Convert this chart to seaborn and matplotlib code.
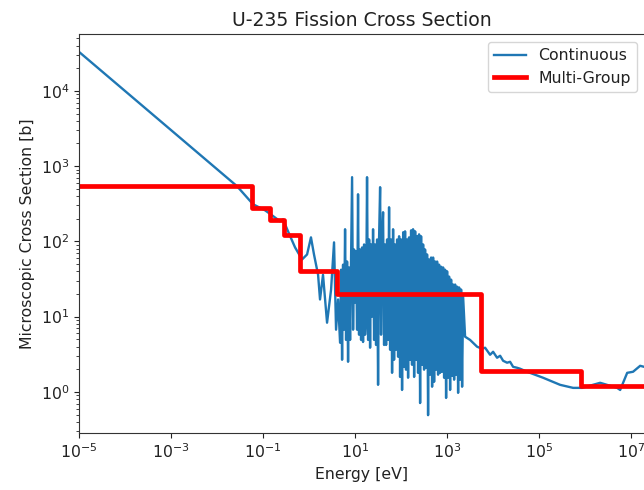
import numpy as np
import seaborn as sns
import matplotlib
matplotlib.use("Agg")
import matplotlib.pyplot as plt

# thermal region (1/v) and the first resolved resonances, energy in eV, xs in barns
low_energy = [1e-5, 0.0272, 0.0607, 0.110, 0.157, 0.234, 0.272, 0.349, 0.497, 0.705,
              0.905, 1.10, 1.28, 1.57, 1.73, 2.01, 2.46, 3.01, 3.49, 3.86, 4.27]
low_xs = [3.3e4, 541, 311, 259, 222, 185, 196, 136, 83, 57.5,
          67, 113, 67, 36, 16.9, 36, 8.3, 22.9, 97, 6.7, 16.9]

# resolved resonance region
res_energy = [4.72, 4.96, 5.22, 5.48, 5.77, 6.06, 6.37, 6.70, 7.04, 7.41,
              7.79, 8.19, 8.61, 9.05, 9.51, 10.0, 10.5, 11.05, 11.6, 12.2,
              12.85, 13.5, 14.2, 14.9, 15.7, 16.5, 17.3, 18.2, 19.2, 20.2,
              21.2, 22.3, 23.4, 24.6, 25.9, 27.2, 28.6, 30.1, 31.6, 33.2,
              35.0, 36.7, 38.6, 40.6, 42.7, 44.9, 47.2, 49.6, 52.2, 54.8,
              57.7, 60.6, 63.7, 67.0, 70.4, 74.1, 77.9, 81.9, 86.1, 90.5,
              95.1, 100, 105, 111, 116, 122, 128, 135, 142, 149,
              157, 165, 173, 182, 192, 202, 212, 223, 234, 246,
              259, 272, 286, 301, 316, 332, 350, 367, 386, 406,
              427, 449, 472, 496, 522, 548, 577, 606, 637, 670,
              704, 741, 779, 819, 861, 905, 951, 1000, 1051, 1105,
              1162, 1222, 1285, 1350, 1420, 1493, 1570, 1650, 1735, 1824,
              1917, 2016, 2119, 2228]
res_xs = [4.5, 42, 2.67, 49, 6.7, 145, 4.9, 54, 2.51, 45,
          4.9, 67, 713, 6.7, 78, 15.4, 74, 6.7, 423, 5.75,
          78, 4.9, 83, 4.6, 91, 5.75, 9.1, 713, 4.9, 106,
          3.86, 91, 10, 145, 4.9, 91, 4.2, 106, 1.24, 106,
          525, 5.75, 106, 244, 4.2, 91, 4.2, 106, 4.9, 284,
          3.63, 106, 1.79, 145, 2.67, 91, 3.63, 106, 2.93, 117,
          1.58, 106, 1.06, 132, 2.15, 136, 1.97, 106, 1.54, 113,
          2.67, 140, 2.29, 145, 1.58, 136, 2.67, 117, 1.79, 124,
          0.71, 117, 2.29, 91, 1.97, 78, 2.09, 67, 0.49, 57.5,
          1.69, 61, 1.17, 61, 1.36, 54, 1.97, 54, 1.69, 49,
          1.79, 46, 1.85, 45, 1.54, 42, 0.83, 40, 1.54, 34,
          1.06, 31, 1.63, 26.7, 1.45, 26.7, 1.69, 25, 0.97, 24.4,
          1.45, 22.9, 1.17, 18.5]

# unresolved + fast region
high_energy = [2.46e3, 3.16e3, 4.49e3, 5.77e3, 6.7e3, 8.6e3, 1.0e4, 1.22e4, 1.42e4,
               1.65e4, 2.01e4, 2.34e4, 2.72e4, 3.32e4, 3.86e4, 5.48e4, 1.22e5,
               2.86e5, 5.48e5, 8.6e5, 2.12e6, 4.96e6, 5.77e6, 8.2e6, 1.1e7,
               1.57e7, 1.92e7]
high_xs = [5.41, 4.9, 3.98, 3.74, 3.86, 3.11, 3.41, 2.84, 3.02,
           2.59, 2.44, 2.51, 2.15, 2.09, 2.03, 1.85, 1.54,
           1.24, 1.13, 1.13, 1.32, 1.13, 1.06, 1.79, 1.85,
           2.22, 2.15]

# CASMO-8 group structure and group-averaged cross sections
group_edges = [1e-5, 0.058, 0.14, 0.28, 0.625, 4.0, 5.53e3, 8.21e5, 2.0e7]
group_xs = [540, 281, 192, 120, 40.2, 20.1, 1.92, 1.2]

energy = low_energy + res_energy + high_energy
xs = low_xs + res_xs + high_xs

# reference is a slightly enlarged screenshot, so bump the text a bit
plt.rcParams['font.size'] = 11.3
plt.rcParams['axes.titlesize'] = 13.6
plt.rcParams['text.color'] = '#222222'
plt.rcParams['axes.labelcolor'] = '#222222'
plt.rcParams['xtick.color'] = '#222222'
plt.rcParams['ytick.color'] = '#222222'
plt.rcParams['axes.edgecolor'] = '#333333'

fig = plt.figure(figsize=(6.44, 4.90), dpi=100)
ax = fig.add_axes([79 / 644, 57 / 490, 566 / 644, 399 / 490])
ax.set_xscale('log')
ax.set_yscale('log')

sns.lineplot(x=energy, y=xs, ax=ax, color='tab:blue', linewidth=1.7,
             sort=False, label='Continuous')
# repeat the last value so the final group gets its flat step
sns.lineplot(x=group_edges, y=group_xs + group_xs[-1:], ax=ax, color='red',
             linewidth=3.4, drawstyle='steps-post', sort=False, label='Multi-Group')

ax.set_xlim(1e-5, 2e7)
ax.set_ylim(0.284, 5.7e4)
ax.set_xlabel('Energy [eV]')
ax.set_ylabel('Microscopic Cross Section [b]')
ax.set_title('U-235 Fission Cross Section')
ax.legend(loc='upper right')

fig.savefig('out.png', dpi=100)
